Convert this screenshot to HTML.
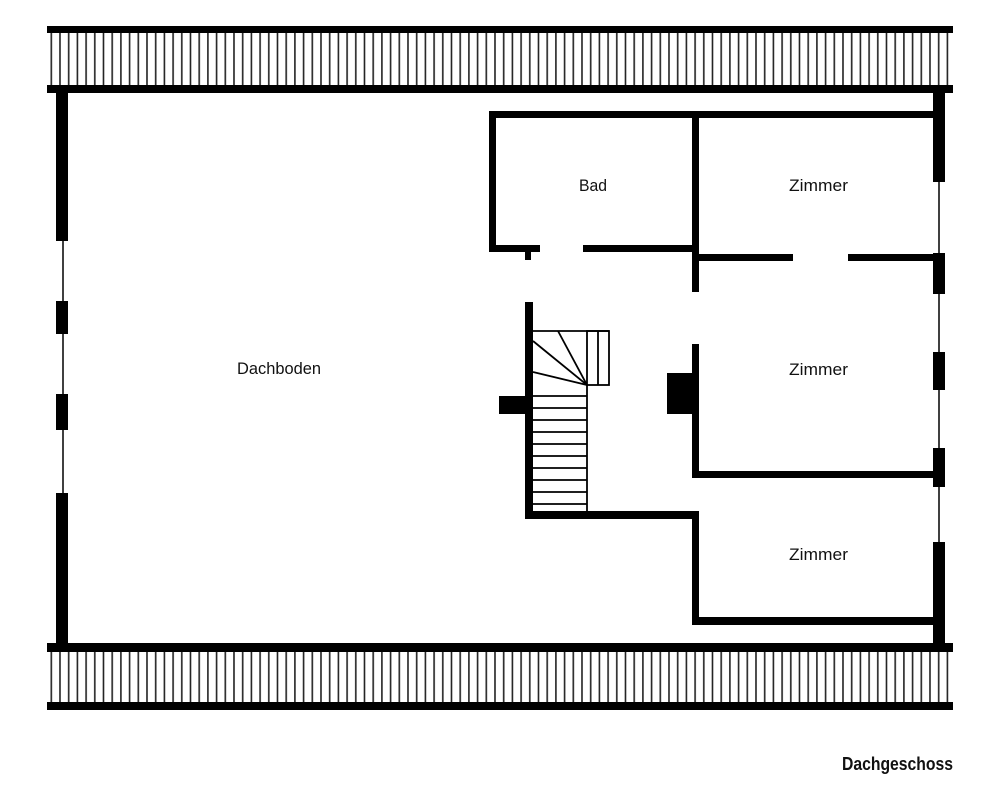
<!DOCTYPE html>
<html><head><meta charset="utf-8"><style>body{margin:0;background:#fff}svg{display:block}</style></head><body>
<svg width="1000" height="800" viewBox="0 0 1000 800" xmlns="http://www.w3.org/2000/svg">
<defs>
<pattern id="rib" x="47" y="0" width="8.7" height="10" patternUnits="userSpaceOnUse">
<rect x="3.5" y="0" width="1.6" height="10" fill="#222"/>
</pattern>
</defs>
<!-- roof bands -->
<rect x="47" y="33" width="906" height="52" fill="url(#rib)"/>
<rect x="47" y="26" width="906" height="7" fill="#000"/>
<rect x="47" y="85" width="906" height="8" fill="#000"/>
<rect x="47" y="652" width="906" height="50" fill="url(#rib)"/>
<rect x="47" y="643" width="906" height="9" fill="#000"/>
<rect x="47" y="702" width="906" height="8" fill="#000"/>
<!-- left wall -->
<line x1="63" y1="93" x2="63" y2="643" stroke="#000" stroke-width="1.5"/>
<rect x="56" y="93" width="12" height="148" fill="#000"/>
<rect x="56" y="301" width="12" height="33" fill="#000"/>
<rect x="56" y="394" width="12" height="36" fill="#000"/>
<rect x="56" y="493" width="12" height="150" fill="#000"/>
<!-- right wall -->
<line x1="939" y1="93" x2="939" y2="643" stroke="#000" stroke-width="1.5"/>
<rect x="933" y="93" width="12" height="89" fill="#000"/>
<rect x="933" y="253" width="12" height="41" fill="#000"/>
<rect x="933" y="352" width="12" height="38" fill="#000"/>
<rect x="933" y="448" width="12" height="39" fill="#000"/>
<rect x="933" y="542" width="12" height="101" fill="#000"/>
<!-- interior walls -->
<g fill="#000">
<rect x="489" y="111" width="456" height="7"/>
<rect x="489" y="111" width="7" height="141"/>
<rect x="489" y="245" width="51" height="7"/>
<rect x="525" y="252" width="6" height="8"/>
<rect x="583" y="245" width="114" height="7"/>
<rect x="692" y="111" width="7" height="181"/>
<rect x="697" y="254" width="96" height="7"/>
<rect x="848" y="254" width="97" height="7"/>
<rect x="692" y="344" width="7" height="134"/>
<rect x="667" y="373" width="27" height="41"/>
<rect x="692" y="471" width="253" height="7"/>
<rect x="525" y="302" width="8" height="217"/>
<rect x="499" y="396" width="28" height="18"/>
<rect x="525" y="511" width="174" height="8"/>
<rect x="692" y="511" width="7" height="114"/>
<rect x="692" y="617" width="253" height="8"/>
</g>
<!-- stairs -->
<g stroke="#000" fill="none" stroke-width="1.8">
<line x1="533" y1="331" x2="609" y2="331"/>
<rect x="587" y="331" width="22" height="54"/>
<line x1="598" y1="331" x2="598" y2="385"/>
<line x1="587" y1="385" x2="587" y2="511"/>
<line x1="587" y1="385" x2="558" y2="331"/>
<line x1="587" y1="385" x2="533" y2="341"/>
<line x1="587" y1="385" x2="533" y2="372"/>
<line x1="533" y1="396" x2="587" y2="396"/>
<line x1="533" y1="408" x2="587" y2="408"/>
<line x1="533" y1="420" x2="587" y2="420"/>
<line x1="533" y1="432" x2="587" y2="432"/>
<line x1="533" y1="444" x2="587" y2="444"/>
<line x1="533" y1="456" x2="587" y2="456"/>
<line x1="533" y1="468" x2="587" y2="468"/>
<line x1="533" y1="480" x2="587" y2="480"/>
<line x1="533" y1="492" x2="587" y2="492"/>
<line x1="533" y1="504" x2="587" y2="504"/>
</g>
<!-- labels -->
<g font-family="'Liberation Sans Narrow','Liberation Sans',sans-serif" font-size="17" fill="#111">
<text x="237" y="374" textLength="84" lengthAdjust="spacingAndGlyphs">Dachboden</text>
<text x="579" y="191" textLength="28" lengthAdjust="spacingAndGlyphs">Bad</text>
<text x="789" y="191" textLength="59" lengthAdjust="spacingAndGlyphs">Zimmer</text>
<text x="789" y="375" textLength="59" lengthAdjust="spacingAndGlyphs">Zimmer</text>
<text x="789" y="560" textLength="59" lengthAdjust="spacingAndGlyphs">Zimmer</text>
<text x="842" y="770" font-weight="bold" font-size="18" textLength="111" lengthAdjust="spacingAndGlyphs">Dachgeschoss</text>
</g>
</svg>
</body></html>
